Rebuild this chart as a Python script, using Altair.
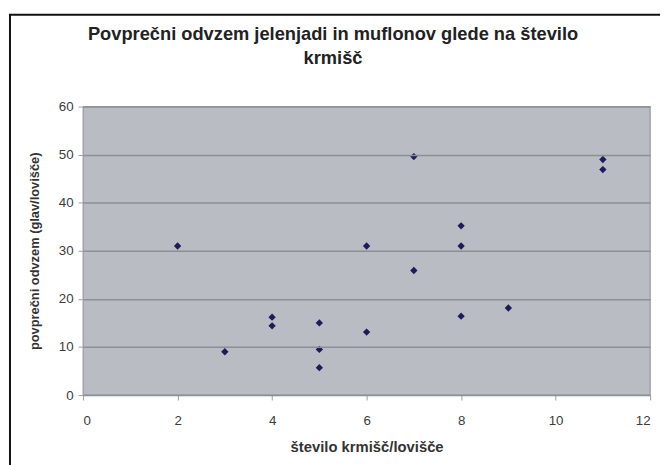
import altair as alt
import pandas as pd

krmisca = [2, 3, 4, 4, 5, 5, 5, 6, 6, 7, 7, 8, 8, 8, 9, 11, 11]
odvzem = [31, 9, 16.2, 14.4, 15, 9.5, 5.7, 31, 13.1, 49.6, 25.9, 35.2, 31, 16.4, 18.1, 49, 46.9]
title_lines = ["Povprečni odvzem jelenjadi in muflonov glede na število", "krmišč"]

df = pd.DataFrame({"x": krmisca, "y": odvzem})

FONT = "Liberation Sans"

points = alt.Chart(df).mark_point(
    shape="diamond", filled=True, size=55, color="#1c1c5c", opacity=1
).encode(
    x=alt.X("x:Q", scale=alt.Scale(domain=[0, 12], nice=False),
            axis=alt.Axis(values=[0, 2, 4, 6, 8, 10, 12], grid=False,
                          title="število krmišč/lovišče", titlePadding=13,
                          titleFontSize=15, titleFont=FONT, titleFontWeight="bold",
                          titleColor="#333333",
                          labelFont=FONT, labelFontSize=13.5, labelColor="#3c3c3c",
                          tickSize=5, tickColor="#9a9ea4", labelPadding=14,
                          domain=False)),
    y=alt.Y("y:Q", scale=alt.Scale(domain=[0, 60], nice=False),
            axis=alt.Axis(values=[0, 10, 20, 30, 40, 50, 60], grid=True,
                          gridColor="#8c9096", gridWidth=1.5, zindex=1,
                          title="povprečni odvzem (glav/lovišče)", titlePadding=17,
                          titleFontSize=13, titleFont=FONT, titleFontWeight="bold",
                          titleColor="#333333",
                          labelFont=FONT, labelFontSize=13.5, labelColor="#3c3c3c",
                          tickSize=5, tickColor="#9a9ea4", labelPadding=5,
                          domain=False)),
)

bg = alt.Chart(pd.DataFrame({"a": [0]})).mark_rect(
    fill="#b9bdc3", stroke="#8e9298", strokeWidth=1
).encode(
    x=alt.value(0), x2=alt.value(574), y=alt.value(0), y2=alt.value(292),
)

border = alt.Chart(pd.DataFrame({"a": [0]})).mark_rect(
    fill="transparent", fillOpacity=0, stroke="#111111", strokeWidth=2, clip=False
).encode(
    x=alt.value(-74), x2=alt.value(720),
    y=alt.value(-93), y2=alt.value(520),
)

title_df = pd.DataFrame({"t": title_lines, "i": [0, 1]})
title = alt.Chart(title_df).mark_text(
    font=FONT, fontSize=18.5, fontWeight="bold", color="#222222",
    align="center", baseline="middle", clip=False
).encode(
    text="t:N",
    x=alt.value(253),
    y=alt.Y("i:O", scale=alt.Scale(range=[-73, -49], padding=0), axis=None),
)

chart = alt.layer(border, bg, points, title).resolve_scale(y="independent").properties(
    width=574, height=292,
    padding={"left": 76, "top": 97, "right": 10, "bottom": 68},
    autosize=alt.AutoSizeParams(type="none"),
).configure_view(
    stroke=None
).configure(background="white")

chart.save("out.html", embed_options={"renderer": "svg", "actions": False})
